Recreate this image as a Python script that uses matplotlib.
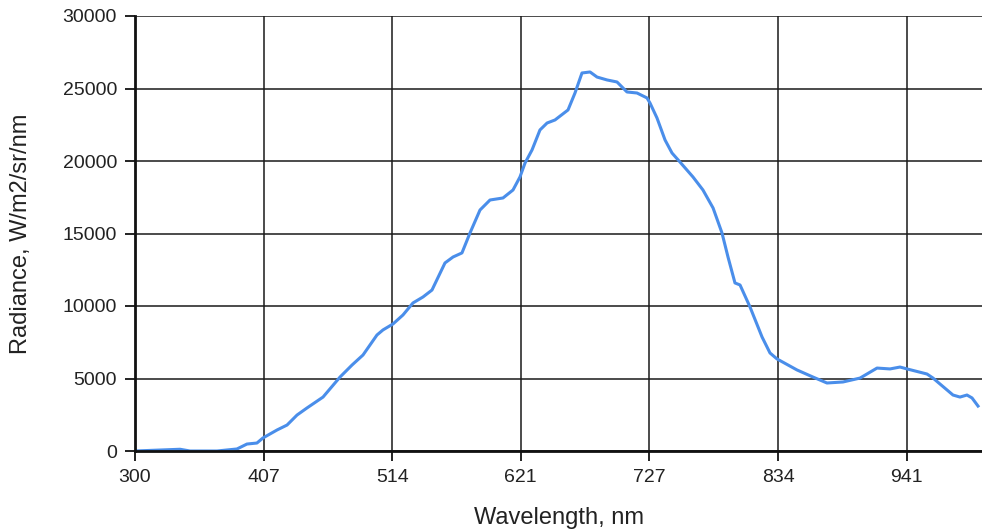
import numpy as np
import matplotlib.pyplot as plt

# Spectrum
wavelength = [300, 337.4, 345.7, 368.1, 384.7, 393.0, 401.3, 406.3, 418.0, 426.3,
              434.6, 442.9, 456.2, 470.3, 480.3, 489.4, 501.0, 506.0, 514.3, 522.6,
              530.9, 539.2, 546.7, 557.5, 564.2, 571.6, 578.3, 586.6, 594.9, 605.7,
              614.0, 619.8, 624.0, 629.8, 636.4, 642.3, 648.9, 659.7, 665.5, 671.3,
              678.0, 683.8, 692.1, 700.4, 708.7, 717.0, 725.3, 727.8, 733.6, 740.3,
              746.1, 752.7, 763.5, 771.8, 780.2, 787.6, 792.6, 798.4, 802.6, 810.9,
              820.9, 827.5, 833.3, 849.9, 863.2, 874.8, 888.1, 902.3, 916.4, 927.2,
              935.5, 941.3, 957.9, 962.9, 979.5, 985.3, 991.1, 995.3, 1000.3]
radiance = [0, 120, 0, 0, 140, 480, 550, 900, 1450, 1790,
            2480, 2970, 3720, 5100, 5930, 6620, 8000, 8350, 8760, 9380,
            10210, 10620, 11100, 12970, 13380, 13660, 15040, 16620, 17310, 17450,
            18000, 18900, 19860, 20760, 22140, 22620, 22830, 23520, 24690, 26070,
            26140, 25790, 25590, 25450, 24760, 24690, 24350, 24000, 22970, 21450,
            20550, 19930, 18900, 18000, 16760, 15040, 13380, 11590, 11450, 9930,
            7860, 6760, 6350, 5590, 5100, 4690, 4760, 5030, 5720, 5660,
            5790, 5660, 5310, 5030, 3860, 3720, 3860, 3660, 3100]

x_tick_labels = ['300', '407', '514', '621', '727', '834', '941']
x_step = 700 / 6.5525
y_ticks = [0, 5000, 10000, 15000, 20000, 25000, 30000]

plt.rcParams['font.family'] = ['Liberation Sans', 'DejaVu Sans']

fig = plt.figure(figsize=(9.82, 5.32), dpi=100)
ax = fig.add_axes([135 / 982, 81 / 532, 847 / 982, 435 / 532])

ax.plot(wavelength, radiance, color='#4a8eea', linewidth=2.2, zorder=3,
        solid_joinstyle='round')

x_ticks = [300 + i * x_step for i in range(len(x_tick_labels))]
ax.set_xticks(x_ticks)
ax.set_xticklabels(x_tick_labels)
ax.set_yticks(y_ticks)
ax.set_xlim(300, 1003.6)
ax.set_ylim(0, 30000)

ax.grid(True, color='#1a1a1a', linewidth=1.1)
ax.set_axisbelow(True)
for s in ['top', 'right']:
    ax.spines[s].set_visible(False)
for s in ['left', 'bottom']:
    ax.spines[s].set_linewidth(2)
    ax.spines[s].set_color('#111111')
    ax.spines[s].set_zorder(4)

ax.tick_params(axis='both', length=7, width=1.3, color='#111111',
               labelsize=14, labelcolor='#222222')
ax.tick_params(axis='x', pad=6)
ax.tick_params(axis='y', pad=6)

ax.set_xlabel('Wavelength, nm', fontsize=17, color='#222222', labelpad=15)
ax.set_ylabel('Radiance, W/m2/sr/nm', fontsize=17, color='#222222', labelpad=22)

fig.savefig('out.png', dpi=100)
